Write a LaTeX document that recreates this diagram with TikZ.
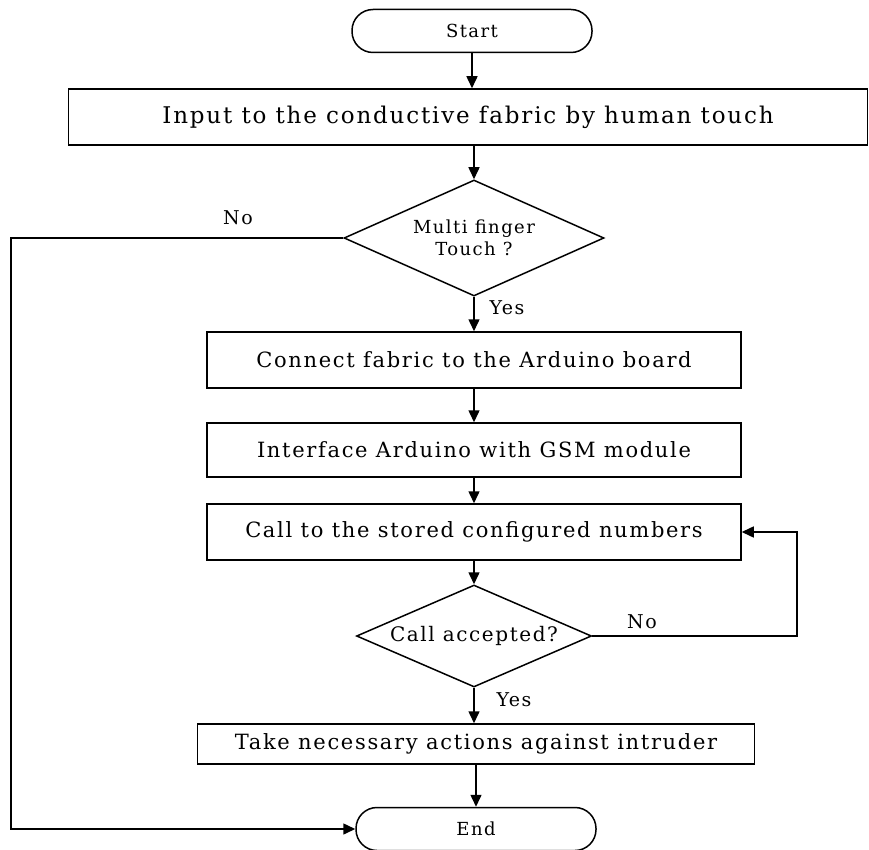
\documentclass[tikz,border=0pt]{standalone}
\usepackage{fontspec}
\setmainfont{DejaVu Serif}
\newfontfamily\boxfont[LetterSpace=8]{DejaVu Serif}
\usetikzlibrary{shapes.geometric,arrows.meta}
\begin{document}
\begin{tikzpicture}[x=1pt,y=-1pt,line width=1.5pt,
    every node/.style={font=\boxfont\fontsize{21}{24}\selectfont,inner sep=0pt},
    term/.style={draw,rounded corners=21pt,minimum width=240pt,minimum height=43pt,font=\boxfont\fontsize{18}{22}\selectfont},
    proc/.style={draw,minimum width=534pt,minimum height=56pt},
    dec/.style={draw,diamond,aspect=2.2,align=center,font=\boxfont\fontsize{18}{22}\selectfont},
    lbl/.style={font=\boxfont\fontsize{19}{22}\selectfont},
    arr/.style={-{Triangle[length=12pt,width=11pt]}}]
    \useasboundingbox (0,0) rectangle (869,850);
    \node[term] (start) at (472,31) {Start};
    \node[proc,minimum width=799pt,font=\boxfont\fontsize{23}{26}\selectfont] (input) at (468,117) {Input to the conductive fabric by human touch};
    \node[dec,minimum width=260pt,minimum height=116pt] (touch) at (474,238) {Multi finger\\Touch ?};
    \node[proc] (connect) at (474,360) {Connect fabric to the Arduino board};
    \node[proc,minimum height=54pt] (iface) at (474,450) {Interface Arduino with GSM module};
    \node[proc] (call) at (474,532) {Call to the stored configured numbers};
    \node[dec,minimum width=235pt,minimum height=102pt,font=\boxfont\fontsize{20}{24}\selectfont] (accept) at (474,636) {Call accepted?};
    \node[proc,minimum width=557pt,minimum height=40pt] (action) at (476,744) {Take necessary actions against intruder};
    \node[term] (end) at (476,829) {End};
    \node[lbl] (no1) at (238,218) {No};
    \node[lbl] (yes1) at (507,308) {Yes};
    \node[lbl] (no2) at (642,622) {No};
    \node[lbl] (yes2) at (514,700) {Yes};
    \coordinate (lcorner) at (11,238);
    \coordinate (rcorner) at (797,636);
    \draw[arr] (start) -- (start |- input.north);
    \draw[arr] (input.south -| touch) -- (touch.north);
    \draw[arr] (touch) -- (connect);
    \draw[arr] (connect) -- (iface);
    \draw[arr] (iface) -- (call);
    \draw[arr] (call) -- (accept);
    \draw[arr] (accept.south) -- (accept.south |- action.north);
    \draw[arr] (action) -- (end);
    \draw[arr] (touch.west) -- (lcorner) |- (end.west);
    \draw[arr] (accept.east) -- (rcorner) |- (call.east);
\end{tikzpicture}
\end{document}
